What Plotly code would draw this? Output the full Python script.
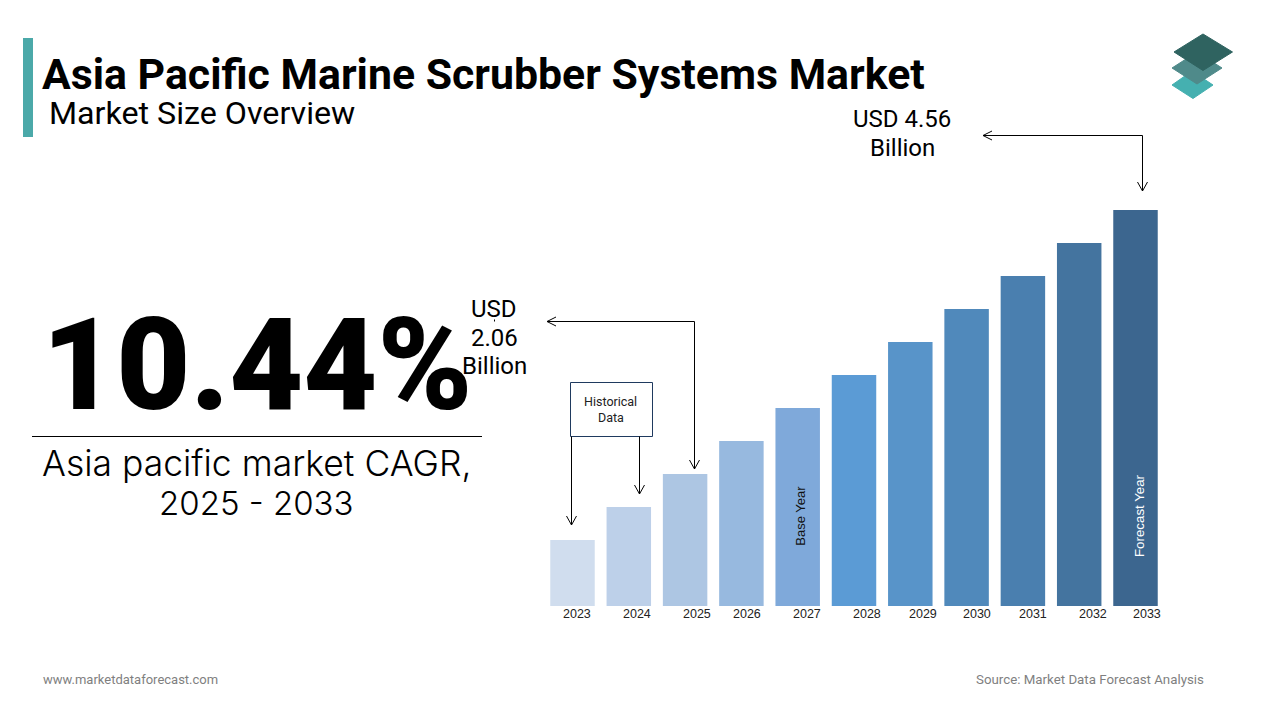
import plotly.graph_objects as go

years = [2023, 2024, 2025, 2026, 2027, 2028, 2029, 2030, 2031, 2032, 2033]
# bar heights as drawn in the picture, they step evenly and are not to scale with the USD labels
bar_heights = [2, 3, 4, 5, 6, 7, 8, 9, 10, 11, 12]
bar_colors = ['#D0DDEE', '#BDD0E9', '#ADC6E3', '#97B9DF', '#7FA9DA', '#5B9BD5',
              '#5894C9', '#5089BB', '#4A7FAF', '#44749F', '#3C668F']
# year labels sit a bit right of the bars in the original
label_shift = [4.5, 8, 12, 5.5, 9, 13, 13, 10.5, 10, 14, 11.5]

W, H = 1280, 720


def px(x):
    return x / W


def py(y):
    return 1 - y / H


fig = go.Figure()
fig.add_trace(go.Bar(x=years, y=bar_heights, width=0.79, marker=dict(color=bar_colors, line_width=0),
                     hoverinfo='x'))


def text(x, y, s, size, color='#000000', family='Roboto', anchor='center', weight=None, angle=0):
    fig.add_annotation(xref='paper', yref='paper', x=px(x), y=py(y), text=s, showarrow=False,
                       xanchor=anchor, yanchor='middle', textangle=angle, align='center',
                       font=dict(family=family, size=size, color=color, weight=weight))


def line(x0, y0, x1, y1, color='#000000', width=1):
    fig.add_shape(type='line', xref='paper', yref='paper', x0=px(x0), y0=py(y0), x1=px(x1), y1=py(y1),
                  line=dict(color=color, width=width))


def poly(points, color):
    path = 'M ' + ' L '.join(f'{px(a):.5f},{py(b):.5f}' for a, b in points) + ' Z'
    fig.add_shape(type='path', xref='paper', yref='paper', path=path, fillcolor=color,
                  line=dict(color=color, width=1))


def head_down(x, y):
    line(x - 5, y - 9, x, y)
    line(x + 5, y - 9, x, y)


def head_left(x, y):
    line(x + 9, y - 4.5, x, y)
    line(x + 9, y + 4.5, x, y)


# header
fig.add_shape(type='rect', xref='paper', yref='paper', x0=px(23), x1=px(33), y0=py(137), y1=py(38),
              fillcolor='#4BA9A9', line_width=0)
text(40, 74, 'Asia Pacific Marine Scrubber Systems Market', 42.8, anchor='left', weight=700)
text(46.5, 113, 'Market Size Overview', 32.2, anchor='left')

# logo
poly([(1172, 85), (1192, 71), (1213, 85), (1193, 98.5)], '#45B0B0')
poly([(1172, 68), (1197, 52), (1222, 68), (1197, 84)], '#4F8A8A')
poly([(1174, 52), (1203, 34), (1232.5, 52), (1203, 70.5)], '#2F6360')

# left side
text(257, 365, '10.44%', 128, family='Roboto', weight=900)
line(32, 436.5, 482, 436.5)
text(256, 463, 'Asia pacific market CAGR,', 35.5, family='Inter', weight=300)
text(256, 503, '2025 - 2033', 33, family='Inter', weight=300)

# callouts
text(494, 309, 'USD', 24)
text(494, 338, '2.06', 24)
text(494, 366, 'Billion', 24)
line(494.5, 319.5, 494.5, 321.5)
line(694.5, 321.5, 547, 321.5)
line(694.5, 321.5, 694.5, 469)
head_left(547, 321.5)
head_down(694.5, 469)

text(902, 119, 'USD 4.56', 24)
text(902, 148, 'Billion', 24)
line(1142.5, 135.5, 983, 135.5)
line(1142.5, 135.5, 1142.5, 191)
head_left(983, 135.5)
head_down(1142.5, 191)

fig.add_shape(type='rect', xref='paper', yref='paper', x0=px(570.5), x1=px(652.5), y0=py(436.5), y1=py(382.5),
              line=dict(color='#1F3A5F', width=1), fillcolor='#FFFFFF')
text(610.5, 401, 'Historical', 12.5, color='#222222')
text(610.5, 417, 'Data', 12.5, color='#222222')
line(571.5, 436.5, 571.5, 525)
head_down(571.5, 525)
line(639.5, 436.5, 639.5, 494)
head_down(639.5, 494)

# year labels
for yr, shift in zip(years, label_shift):
    fig.add_annotation(x=yr, y=0, xref='x', yref='y', text=str(yr), showarrow=False, xshift=shift, yshift=-7.5,
                       yanchor='middle', font=dict(family='Liberation Sans', size=12.5, color='#222222'))

# labels inside bars
fig.add_annotation(x=2027, y=0, xref='x', yref='y', text='Base Year', showarrow=False, textangle=-90, xshift=2,
                   yshift=90, font=dict(family='Liberation Sans', size=13, color='#111111'))
fig.add_annotation(x=2033, y=0, xref='x', yref='y', text='Forecast Year', showarrow=False, textangle=-90, xshift=3.5,
                   yshift=90, font=dict(family='Liberation Sans', size=13.3, color='#FFFFFF'))

# footer
text(41, 679, 'www.marketdataforecast.com', 13, color='#7F7F7F', anchor='left')
text(1206, 679, 'Source: Market Data Forecast Analysis', 13.3, color='#7F7F7F', anchor='right')

fig.update_layout(
    width=W, height=H, margin=dict(l=0, r=0, t=0, b=0),
    paper_bgcolor='#FFFFFF', plot_bgcolor='#FFFFFF',
    showlegend=False, bargap=0.2,
    xaxis=dict(domain=[px(516.2), px(1191.8)], range=[2022, 2034], visible=False, fixedrange=True),
    yaxis=dict(domain=[py(606), py(606 - 33 * 13)], range=[0, 13], visible=False, fixedrange=True),
)
fig.write_html("out.html", config={'displayModeBar': False},
               post_script="document.body.style.margin='0';")
